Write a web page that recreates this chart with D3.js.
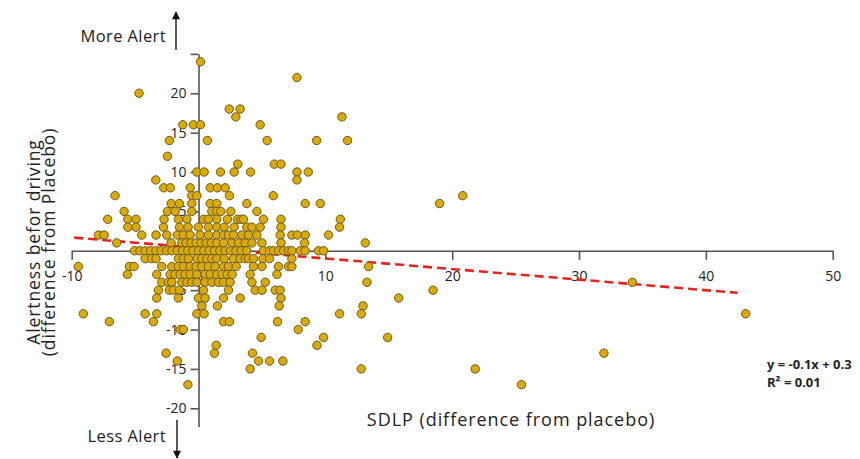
<!DOCTYPE html>
<html>
<head>
<meta charset="utf-8">
<script src="https://cdn.jsdelivr.net/npm/d3@7"></script>
<style>
  body { margin: 0; background: #fff; }
  text { font-family: "Open Sans", sans-serif; fill: #222; }
</style>
</head>
<body>
<div id="chart"></div>
<script>
// alertness rating rows (difference from placebo) and the SDLP values seen on each row
const alertness = [24, 22, 20, 18, 17, 16, 14, 12, 11, 10, 9, 8, 7, 6, 5, 4, 3, 2, 1, 0,
    -1, -2, -3, -4, -5, -6, -7, -8, -9, -10, -11, -12, -13, -14, -15, -17];

const sdlp = [
    [0.15],
    [7.76],
    [-4.69],
    [2.42, 3.28],
    [2.94, 11.31],
    [-1.24, -0.40, 0.15, 4.86],
    [-2.30, 0.70, 5.41, 9.31, 11.75],
    [-2.45],
    [3.10, 5.97, 6.50],
    [-0.13, 0.44, 1.73, 2.81, 4.10, 7.76, 8.65],
    [-3.37, 7.76],
    [-2.74, -2.22, -0.66, 0.92, 1.49, 2.10],
    [-6.58, -0.53, -0.13, 2.44, 5.89, 20.83],
    [-2.16, -1.51, -0.53, 0.92, 1.44, 3.81, 8.41, 9.60, 19.01],
    [-5.87, -2.45, -1.85, -0.53, 1.05, 1.44, 1.76, 2.55, 4.60],
    [-7.16, -5.58, -4.93, -2.72, -1.59, -0.92, 0.39, 0.78, 1.44, 2.28, 3.07, 3.34, 3.54, 5.12, 6.50, 11.18],
    [-5.58, -4.93, -2.77, -1.50, -0.82, -0.01, 0.78, 1.44, 2.02, 2.81, 3.81, 4.21, 4.86, 6.50, 11.12],
    [-7.90, -7.45, -4.48, -3.35, -2.50, -1.67, -1.19, -0.66, 0.13, 0.78, 1.44, 1.97, 2.36, 2.76, 3.42, 3.94, 4.60, 6.44, 7.36, 7.81, 8.41, 10.25],
    [-6.45, -2.16, -1.32, -0.98, -0.58, -0.19, 0.21, 0.60, 1.00, 1.44, 1.97, 2.63, 3.15, 3.68, 4.21, 5.00, 6.50, 8.36, 13.15],
    [-5.05, -4.62, -4.20, -3.78, -3.36, -2.95, -2.52, -2.10, -1.68, -1.27, -0.85, -0.43, 0.00, 0.42, 0.84, 1.26, 1.68, 2.10, 2.52, 2.95, 3.36, 3.80,
        5.12, 5.60, 5.91, 6.31, 6.70, 7.10, 7.36, 8.02, 8.41, 9.46, 9.86],
    [-4.21, -3.69, -3.35, -1.59, -1.19, -0.80, -0.13, 0.26, 0.66, 1.05, 1.44, 2.02, 2.75, 3.28, 3.68, 3.94, 4.33, 5.08, 5.60, 7.36],
    [-9.48, -5.45, -5.08, -2.90, -2.11, -1.59, -1.19, -0.66, -0.19, 0.26, 0.78, 1.31, 1.97, 2.36, 2.97, 4.33, 5.00, 6.31, 7.10, 7.36, 13.41],
    [-5.61, -3.29, -2.24, -1.85, -1.45, -1.06, -0.66, -0.13, 0.52, 0.92, 1.44, 1.86, 2.26, 2.65, 4.07, 6.18],
    [-2.90, -2.38, -2.11, -1.32, -0.92, -0.53, -0.13, 0.52, 1.05, 1.57, 1.97, 2.49, 4.21, 5.26, 13.28, 34.2],
    [-3.16, -2.30, -1.98, -1.51, 0.39, 2.36, 4.47, 5.00, 6.05, 6.44, 18.49],
    [-3.29, -1.59, -0.01, 0.52, 1.97, 3.28, 6.50, 15.78],
    [0.26, 1.49, 6.36, 12.97],
    [-9.08, -4.21, -3.29, -0.13, 0.44, 11.12, 12.83, 43.14],
    [-7.03, -3.56, 1.97, 2.44, 6.23, 8.41],
    [-1.45, -1.19, 7.86],
    [4.94, 9.86, 14.91],
    [1.39, 9.34],
    [-2.56, 1.25, 4.25, 31.96],
    [-1.67, 4.73, 5.60, 6.65],
    [4.07, 12.83, 21.81],
    [-0.84, 25.46]
];

const xTicks = [-10, 0, 10, 20, 30, 40, 50];
const yTicks = [-20, -15, -10, -5, 5, 10, 15, 20, 25];

// fitted line as drawn
const trendSlope = -0.134;
const trendIntercept = 0.36;
const trendRange = [-9.8, 42.5];

const svgWidth = 860;
const svgHeight = 459;

const svg = d3.select("#chart")
    .append("svg")
    .attr("width", svgWidth)
    .attr("height", svgHeight);

const x = d3.scaleLinear().domain([-10, 50]).range([71.7, 832.7]);
const y = d3.scaleLinear().domain([-22.3, 25]).range([426.4, 53.9]);

const points = [];
alertness.forEach((a, i) => sdlp[i].forEach(s => points.push({ s, a })));

// axes
const xAxis = svg.append("g")
    .attr("transform", `translate(0,${y(0)})`)
    .call(d3.axisBottom(x).tickValues(xTicks).tickSize(9).tickPadding(11).tickSizeOuter(0)
        .tickFormat(d => String(d)));

const yAxis = svg.append("g")
    .attr("transform", `translate(${x(0)},0)`)
    .call(d3.axisLeft(y).tickValues(yTicks).tickSize(8).tickPadding(4).tickSizeOuter(0)
        .tickFormat(d => d === 25 ? "" : String(d)));

[xAxis, yAxis].forEach(g => {
    g.selectAll("path, line").attr("stroke", "#555").attr("stroke-width", 1.6);
    g.selectAll("text").attr("font-size", 14).attr("fill", "#222")
        .attr("font-family", "'Open Sans', sans-serif");
});

// trend line
svg.append("line")
    .attr("x1", x(trendRange[0]))
    .attr("y1", y(trendIntercept + trendSlope * trendRange[0]))
    .attr("x2", x(trendRange[1]))
    .attr("y2", y(trendIntercept + trendSlope * trendRange[1]))
    .attr("stroke", "#e8231f")
    .attr("stroke-width", 2.6)
    .attr("stroke-dasharray", "9,5");

// points
svg.append("g")
    .selectAll("circle")
    .data(points)
    .join("circle")
    .attr("cx", d => x(d.s))
    .attr("cy", d => y(d.a))
    .attr("r", 4.2)
    .attr("fill", "#d9aa08")
    .attr("stroke", "#6e5a14")
    .attr("stroke-width", 1);

// axis titles
const yTitle = svg.append("text")
    .attr("transform", "translate(40,242) rotate(-90)")
    .attr("text-anchor", "middle")
    .attr("font-size", 17.5)
    .attr("letter-spacing", 0.9);
yTitle.append("tspan").attr("x", 0).attr("y", 0).text("Alertness befor driving");
yTitle.append("tspan").attr("x", 0).attr("y", 14.5).text("(difference from Placebo)");

svg.append("text")
    .attr("x", 511)
    .attr("y", 426)
    .attr("text-anchor", "middle")
    .attr("font-size", 18)
    .attr("letter-spacing", 0.95)
    .text("SDLP (difference from placebo)");

// direction labels with arrows
const defs = svg.append("defs");
defs.append("marker")
    .attr("id", "head")
    .attr("viewBox", "0 0 10 10")
    .attr("refX", 9).attr("refY", 5)
    .attr("markerWidth", 11).attr("markerHeight", 8)
    .attr("markerUnits", "userSpaceOnUse")
    .attr("orient", "auto")
    .append("path")
    .attr("d", "M0,0L10,5L0,10Z")
    .attr("fill", "#111");

svg.append("line")
    .attr("x1", 176).attr("y1", 50).attr("x2", 176).attr("y2", 12)
    .attr("stroke", "#111").attr("stroke-width", 1.4)
    .attr("marker-end", "url(#head)");
svg.append("text")
    .attr("x", 166).attr("y", 42)
    .attr("text-anchor", "end")
    .attr("font-size", 16.5)
    .attr("letter-spacing", 0.4)
    .text("More Alert");

svg.append("line")
    .attr("x1", 177).attr("y1", 420).attr("x2", 177).attr("y2", 458)
    .attr("stroke", "#111").attr("stroke-width", 1.4)
    .attr("marker-end", "url(#head)");
svg.append("text")
    .attr("x", 166).attr("y", 442)
    .attr("text-anchor", "end")
    .attr("font-size", 16.5)
    .attr("letter-spacing", 0.4)
    .text("Less Alert");

// regression equation
const eq = svg.append("text")
    .attr("font-size", 13)
    .attr("font-weight", "bold");
eq.append("tspan").attr("x", 767).attr("y", 369).text("y = -0.1x + 0.3");
eq.append("tspan").attr("x", 767).attr("y", 387).text("R² = 0.01");
</script>
</body>
</html>
